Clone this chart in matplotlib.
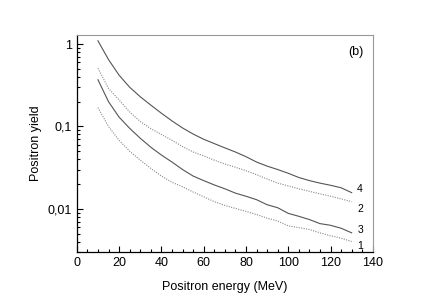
import matplotlib
matplotlib.use("Agg")
import matplotlib.pyplot as plt
from matplotlib.ticker import FixedLocator, LogLocator, NullFormatter, MultipleLocator

plt.rcParams['font.family'] = ['Liberation Sans', 'DejaVu Sans']

energy = [10, 15, 20, 25, 30, 35, 40, 45, 50, 55, 60, 65, 70, 75, 80,
          85, 90, 95, 100, 105, 110, 115, 120, 125, 130]

yield_4 = [1.1, 0.65, 0.42, 0.30, 0.23, 0.182, 0.145, 0.117, 0.096, 0.081, 0.07, 0.062, 0.055,
           0.049, 0.043, 0.037, 0.033, 0.030, 0.027, 0.024, 0.022, 0.0205, 0.0193, 0.018, 0.0157]
yield_2 = [0.51, 0.29, 0.21, 0.15, 0.115, 0.094, 0.08, 0.068, 0.057, 0.049, 0.044, 0.039, 0.035,
           0.032, 0.029, 0.026, 0.023, 0.0205, 0.019, 0.0175, 0.0163, 0.0152, 0.0142, 0.0132, 0.0122]
yield_3 = [0.37, 0.20, 0.13, 0.095, 0.072, 0.056, 0.045, 0.037, 0.030, 0.025, 0.022, 0.0195, 0.0175,
           0.0155, 0.0142, 0.0129, 0.0112, 0.0103, 0.0088, 0.0081, 0.0074, 0.0066, 0.0063, 0.0058, 0.0051]
yield_1 = [0.17, 0.10, 0.068, 0.05, 0.039, 0.031, 0.025, 0.021, 0.0185, 0.016, 0.014, 0.0122, 0.011,
           0.0101, 0.0093, 0.0085, 0.0077, 0.0071, 0.0062, 0.0059, 0.0056, 0.0051, 0.0047, 0.0044, 0.004]

curve_labels = ['4', '2', '3', '1']
label_y = [0.0173, 0.0100, 0.0055, 0.0035]

y_ticks = [1, 0.1, 0.01]
y_ticklabels = ['1', '0,1', '0,01']

fig = plt.figure(figsize=(4.34, 3.03), dpi=100)
ax = fig.add_axes([0.177, 0.169, 0.682, 0.716])

ax.plot(energy, yield_4, color='#555555', lw=0.8)
ax.plot(energy, yield_2, color='#888888', lw=0.8, ls=(0, (1, 1.2)))
ax.plot(energy, yield_3, color='#555555', lw=0.8)
ax.plot(energy, yield_1, color='#888888', lw=0.8, ls=(0, (1, 1.2)))

for lab, yv in zip(curve_labels, label_y):
    ax.text(134, yv, lab, fontsize=7.5, ha='center', va='center')

ax.text(132, 0.81, '(b)', fontsize=9, ha='center', va='center')

ax.set_yscale('log')
ax.set_xlim(0, 140)
ax.set_ylim(0.003, 1.3)
ax.yaxis.set_major_locator(FixedLocator(y_ticks))
ax.set_yticklabels(y_ticklabels)
ax.yaxis.set_minor_locator(LogLocator(base=10, subs=range(2, 10)))
ax.yaxis.set_minor_formatter(NullFormatter())
ax.xaxis.set_major_locator(MultipleLocator(20))
ax.xaxis.set_minor_locator(MultipleLocator(5))

ax.tick_params(which='both', direction='in', top=False, right=False, labelsize=9, width=0.8)
ax.tick_params(which='major', length=4)
ax.tick_params(which='minor', length=2)

for s in ['top', 'right']:
    ax.spines[s].set_color('#999999')
    ax.spines[s].set_linewidth(0.8)
for s in ['left', 'bottom']:
    ax.spines[s].set_linewidth(0.9)

ax.set_xlabel('Positron energy (MeV)', fontsize=9, labelpad=9)
ax.set_ylabel('Positron yield', fontsize=9)

fig.savefig('out.png', dpi=100)
